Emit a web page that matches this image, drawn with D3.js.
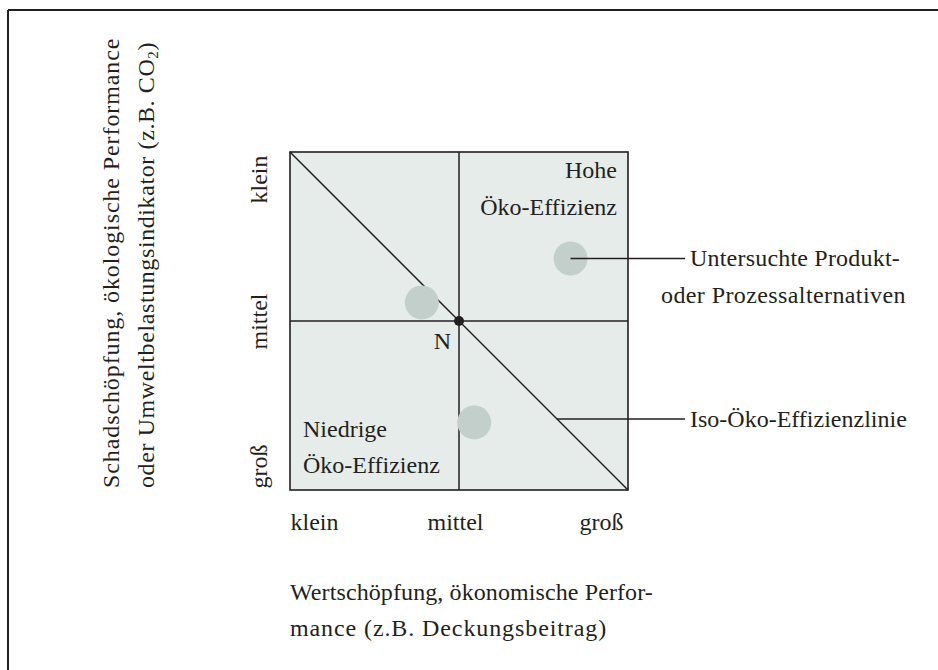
<!DOCTYPE html>
<html>
<head>
<meta charset="utf-8">
<script src="https://cdn.jsdelivr.net/npm/d3@7"></script>
<style>
  body { margin: 0; background: #fff; }
  svg text { font-family: "Liberation Serif", "DejaVu Serif", serif; fill: #231f20; }
</style>
</head>
<body>
<svg id="chart" width="938" height="670"></svg>
<script>
var levels = ['klein', 'mittel', 'groß'];
var yLevels = ['groß', 'mittel', 'klein'];
// untersuchte Alternativen (x = Wertschöpfung, y = 2 - Schadschöpfung)
var altX = [1.66, 0.78, 1.09];
var altY = [1.37, 1.11, 0.40];
var normPoint = [1, 1];
var xTitle = ['Wertschöpfung, ökonomische Perfor-', 'mance (z.B. Deckungsbeitrag)'];
var yTitle1 = 'Schadschöpfung, ökologische Performance';
var yTitle2 = 'oder Umweltbelastungsindikator (z.B. CO';
var quadHigh = ['Hohe', 'Öko-Effizienz'];
var quadLow = ['Niedrige', 'Öko-Effizienz'];
var calloutAlt = ['Untersuchte Produkt-', 'oder Prozessalternativen'];
var calloutIso = 'Iso-Öko-Effizienzlinie';

var svg = d3.select('#chart');
var fs = 24;
var ink = '#231f20';

var scX = d3.scaleLinear().domain([0, 2]).range([290, 628]);
var scY = d3.scaleLinear().domain([0, 2]).range([490, 152]);

// Rahmen oben und links
svg.append('line').attr('x1', 8).attr('y1', 10).attr('x2', 938).attr('y2', 10)
    .attr('stroke', ink).attr('stroke-width', 2);
svg.append('line').attr('x1', 8).attr('y1', 10).attr('x2', 8).attr('y2', 670)
    .attr('stroke', ink).attr('stroke-width', 2);

// Feld
svg.append('rect')
    .attr('x', scX(0)).attr('y', scY(2))
    .attr('width', scX(2) - scX(0)).attr('height', scY(0) - scY(2))
    .attr('fill', '#e6ecea').attr('stroke', ink).attr('stroke-width', 1.6);

svg.append('line').attr('x1', scX(1)).attr('y1', scY(0)).attr('x2', scX(1)).attr('y2', scY(2))
    .attr('stroke', ink).attr('stroke-width', 1.5);
svg.append('line').attr('x1', scX(0)).attr('y1', scY(1)).attr('x2', scX(2)).attr('y2', scY(1))
    .attr('stroke', ink).attr('stroke-width', 1.5);
// Iso-Öko-Effizienzlinie
svg.append('line').attr('x1', scX(0)).attr('y1', scY(2)).attr('x2', scX(2)).attr('y2', scY(0))
    .attr('stroke', ink).attr('stroke-width', 1.5);

// Alternativen
svg.selectAll('circle.alt').data(altX).enter().append('circle')
    .attr('class', 'alt')
    .attr('cx', d => scX(d))
    .attr('cy', (d, i) => scY(altY[i]))
    .attr('r', 17)
    .attr('fill', '#c3cfca');

// Normpunkt N
svg.append('circle').attr('cx', scX(normPoint[0])).attr('cy', scY(normPoint[1])).attr('r', 5)
    .attr('fill', ink);
svg.append('text').attr('x', scX(normPoint[0]) - 8).attr('y', scY(normPoint[1]) + 28)
    .attr('text-anchor', 'end').attr('font-size', fs).text('N');

// Quadrantentexte
svg.append('g').selectAll('text').data(quadHigh).enter().append('text')
    .attr('x', scX(2) - 11).attr('y', (d, i) => 178 + i * 37)
    .attr('text-anchor', 'end').attr('font-size', fs).text(d => d);
svg.append('g').selectAll('text').data(quadLow).enter().append('text')
    .attr('x', scX(0) + 13).attr('y', (d, i) => 437 + i * 36)
    .attr('font-size', fs).text(d => d);

// Hinweislinien
var calloutX = 685;
svg.append('line').attr('x1', scX(altX[0])).attr('y1', scY(altY[0]))
    .attr('x2', calloutX).attr('y2', scY(altY[0]))
    .attr('stroke', ink).attr('stroke-width', 1.5);
var isoY = 0.42;
svg.append('line').attr('x1', scX(2 - isoY)).attr('y1', scY(isoY))
    .attr('x2', calloutX).attr('y2', scY(isoY))
    .attr('stroke', ink).attr('stroke-width', 1.5);
svg.append('g').selectAll('text').data(calloutAlt).enter().append('text')
    .attr('x', (d, i) => i === 0 ? calloutX + 5 : calloutX - 24)
    .attr('y', (d, i) => scY(altY[0]) + 8 + i * 37)
    .attr('letter-spacing', (d, i) => i === 0 ? 0.2 : 0.4)
    .attr('font-size', fs).text(d => d);
svg.append('text').attr('x', calloutX + 5).attr('y', scY(isoY) + 8)
    .attr('font-size', fs).text(calloutIso);

// x-Achse
var xAxis = d3.axisBottom(scX).tickValues([0, 1, 2]).tickSize(0)
    .tickFormat((d, i) => levels[i]);
var gx = svg.append('g').attr('transform', 'translate(0,' + (scY(0) + 20) + ')').call(xAxis);
gx.attr('font-family', null);
gx.select('.domain').remove();
gx.selectAll('text').attr('font-size', fs).attr('fill', ink)
    .attr('dx', (d, i) => [0, -4, -5][i])
    .attr('text-anchor', (d, i) => ['start', 'middle', 'end'][i]);

// y-Achse (gedreht)
var yAxis = d3.axisLeft(scY).tickValues([0, 1, 2]).tickSize(0)
    .tickFormat((d, i) => yLevels[i]);
var gy = svg.append('g').attr('transform', 'translate(' + (scX(0) - 23) + ',0)').call(yAxis);
gy.attr('font-family', null);
gy.select('.domain').remove();
gy.selectAll('text').attr('font-size', fs).attr('fill', ink)
    .attr('transform', 'rotate(-90)').attr('x', 0).attr('y', 0).attr('dy', 0)
    .attr('dx', (d, i) => [2, 0, -3][i])
    .attr('text-anchor', (d, i) => ['start', 'middle', 'end'][i]);

// Achsentitel
svg.append('g').selectAll('text').data(xTitle).enter().append('text')
    .attr('x', scX(0)).attr('y', (d, i) => 600 + i * 36)
    .attr('letter-spacing', (d, i) => i === 0 ? 0.1 : 0.9)
    .attr('font-size', fs).text(d => d);

var ty = svg.append('g').attr('transform', 'translate(0,' + scY(0) + ') rotate(-90)');
ty.append('text').attr('x', 2).attr('y', 119).attr('font-size', fs)
    .attr('letter-spacing', 0.9).text(yTitle1);
var t2 = ty.append('text').attr('x', 2).attr('y', 154).attr('font-size', fs)
    .attr('letter-spacing', 0.6).text(yTitle2);
t2.append('tspan').attr('font-size', 15).attr('dy', 4).text('2');
t2.append('tspan').attr('dy', -4).text(')');
</script>
</body>
</html>
